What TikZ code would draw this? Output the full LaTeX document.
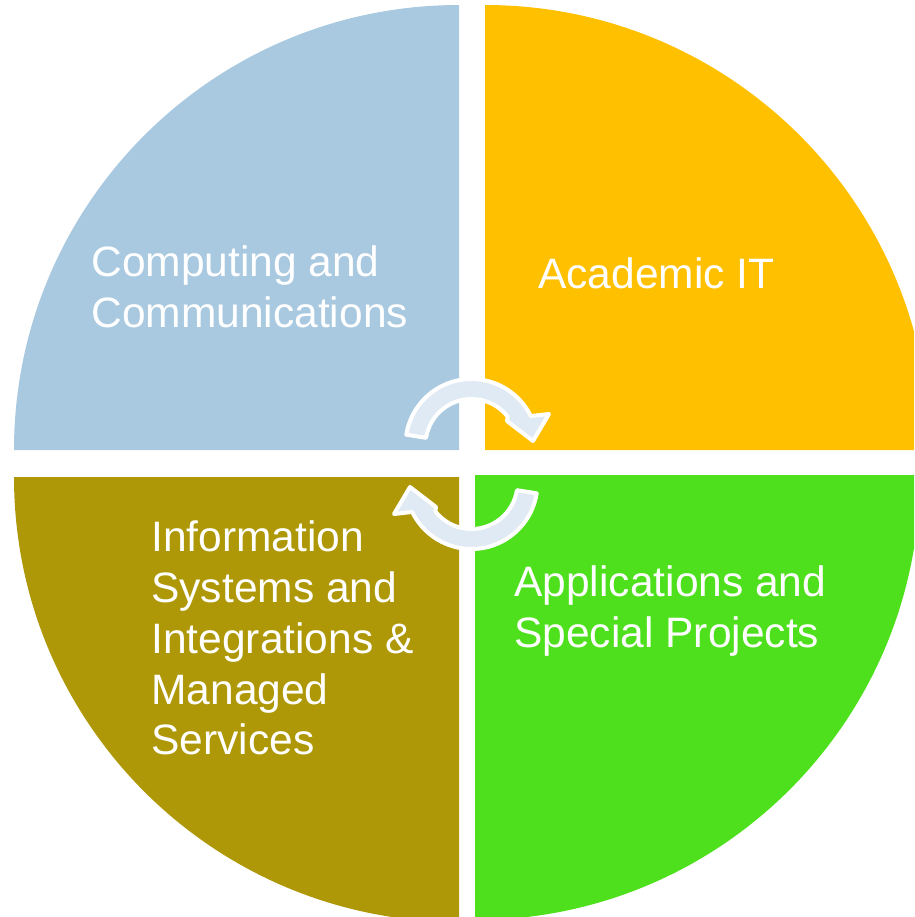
\documentclass[tikz,border=0pt]{standalone}
\usepackage{fontspec}
\setmainfont{Liberation Sans}
\usetikzlibrary{calc}
\definecolor{unitblue}{HTML}{A9C9E0}
\definecolor{unitgold}{HTML}{FFC000}
\definecolor{unitgreen}{HTML}{4FE01D}
\definecolor{unitolive}{HTML}{AE9807}
\definecolor{turnfill}{HTML}{DFEAF4}

\begin{document}
\begin{tikzpicture}[
        x=0.02cm,y=-0.02cm,
        wedge/.style={draw=none},
        turn/.style={fill=turnfill,draw=white,line width=0.08cm,line join=round},
        unitname/.style={anchor=north west,inner sep=0pt,align=left,text=white,
          font=\fontsize{24.2}{29}\selectfont}
      ]
        \useasboundingbox (0,0) rectangle (914,917);
        \clip (0,0) rectangle (914,917);

        % four quarters, pulled apart
        \fill[wedge,unitblue] (459,450) -- ++(180:445)
          arc[start angle=180,end angle=270,radius=445] -- cycle;
        \fill[wedge,unitgold] (485,450) -- ++(270:445)
          arc[start angle=270,end angle=360,radius=445] -- cycle;
        \fill[wedge,unitgreen] (475,475) -- ++(0:445)
          arc[start angle=0,end angle=90,radius=445] -- cycle;
        \fill[wedge,unitolive] (459,477) -- ++(90:445)
          arc[start angle=90,end angle=180,radius=445] -- cycle;

        % the two turning arrows in the middle
        \foreach \rot in {0,180} {
          \begin{scope}[rotate around={\rot:(471.5,464)}]
            \draw[turn] ($(471.5,445)+(189:66)$)
              arc[start angle=189,end angle=334,radius=66]
              -- (549,414) -- (533,441) -- (507,421)
              -- ($(471.5,445)+(322:46)$)
              arc[start angle=322,end angle=189,radius=46] -- cycle;
          \end{scope}
        }

        \node[unitname] (comms) at (91,245) {Computing and\\Communications};
        \node[unitname] (academic) at (538,257) {Academic IT};
        \node[unitname] (infosys) at (151,520)
          {Information\\Systems and\\Integrations \&\\Managed\\Services};
        \node[unitname] (apps) at (514,565) {Applications and\\Special Projects};
      \end{tikzpicture}
\end{document}
